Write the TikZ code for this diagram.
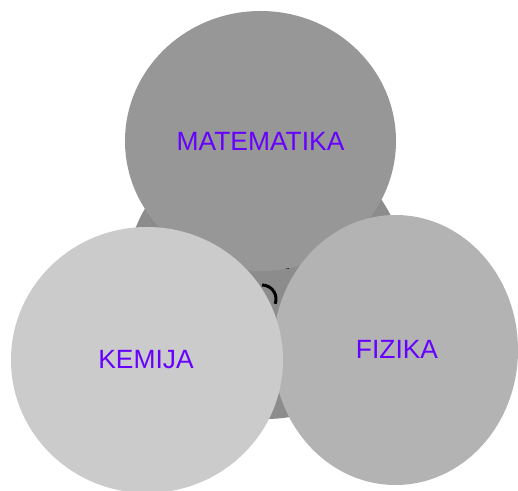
\documentclass[tikz,border=0pt]{standalone}
\usepackage{fontspec}
\setmainfont{Liberation Sans}
\usetikzlibrary{shapes.geometric}
\definecolor{labelc}{HTML}{6600FF}
\definecolor{cCenter}{HTML}{8C8C8C}
\definecolor{cMat}{HTML}{979797}
\definecolor{cFiz}{HTML}{B3B3B3}
\definecolor{cKem}{HTML}{CBCBCB}
\begin{document}
\begin{tikzpicture}[x=0.5pt,y=-0.5pt,
  blob/.style={ellipse, inner sep=0pt, draw=none},
  lbl/.style={text=labelc, font=\fontsize{13.2}{15}\selectfont}]
\useasboundingbox (0,0) rectangle (518,491);
\clip (0,0) rectangle (518,491);
\node[circle, fill=cCenter, minimum size=280*0.5pt, inner sep=0pt] (core) at (266,279) {};
\draw[line width=1.5pt] (262,285) arc[start angle=-90, end angle=20, radius=14];
\coordinate (markA) at (283,268.5);
\coordinate (markB) at (289,268.5);
\draw[line width=0.8pt] (markA) -- (markB);
\node[blob, fill=cMat, minimum width=271*0.5pt, minimum height=260*0.5pt] (mat) at (260.5,141) {};
\node[blob, fill=cFiz, minimum width=245*0.5pt, minimum height=270*0.5pt] (fiz) at (395.5,350) {};
\node[blob, fill=cKem, minimum width=272*0.5pt, minimum height=266*0.5pt] (kem) at (147,360) {};
\node[lbl] (tmat) at (mat.center) {MATEMATIKA};
\node[lbl] (tfiz) at (397,349) {FIZIKA};
\node[lbl] (tkem) at (146,360) {KEMIJA};
\end{tikzpicture}
\end{document}
